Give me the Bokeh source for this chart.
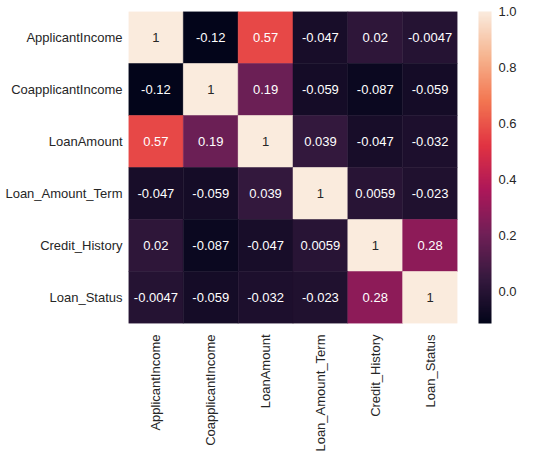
import numpy as np
from bokeh.plotting import figure
from bokeh.models import (ColumnDataSource, LinearColorMapper, ColorBar, FixedTicker,
                          PrintfTickFormatter, FactorRange)
from bokeh.core.properties import value
from bokeh.embed import file_html
from bokeh.resources import INLINE

labels = ["ApplicantIncome", "CoapplicantIncome", "LoanAmount",
          "Loan_Amount_Term", "Credit_History", "Loan_Status"]
row_applicant_income = [1, -0.12, 0.57, -0.047, 0.02, -0.0047]
row_coapplicant_income = [-0.12, 1, 0.19, -0.059, -0.087, -0.059]
row_loan_amount = [0.57, 0.19, 1, 0.039, -0.047, -0.032]
row_loan_amount_term = [-0.047, -0.059, 0.039, 1, 0.0059, -0.023]
row_credit_history = [0.02, -0.087, -0.047, 0.0059, 1, 0.28]
row_loan_status = [-0.0047, -0.059, -0.032, -0.023, 0.28, 1]
rows = [row_applicant_income, row_coapplicant_income, row_loan_amount,
        row_loan_amount_term, row_credit_history, row_loan_status]
vmin, vmax = -0.116, 1.0
cbar_ticks = [0.0, 0.2, 0.4, 0.6, 0.8, 1.0]

# rocket-like palette
stops = ["#03051a", "#35193e", "#701f57", "#ad1759", "#e13342", "#f37651", "#f6b48f", "#faebdd"]
def hex2rgb(h):
    return np.array([int(h[i:i + 2], 16) for i in (1, 3, 5)], dtype=float)
stop_rgb = np.array([hex2rgb(h) for h in stops])
pos = np.linspace(0, 1, len(stops))
t = np.linspace(0, 1, 256)
palette = []
for tt in t:
    rgb = [np.interp(tt, pos, stop_rgb[:, k]) for k in range(3)]
    palette.append("#%02x%02x%02x" % tuple(int(round(c)) for c in rgb))

xs, ys, vals, txt, tcol = [], [], [], [], []
for i, r in enumerate(rows):
    for j, v in enumerate(r):
        xs.append(labels[j]); ys.append(labels[i]); vals.append(v)
        txt.append("%g" % v)
        tcol.append("#262626" if v >= 0.9 else "white")
src = ColumnDataSource(dict(x=xs, y=ys, v=vals, t=txt, c=tcol))

mapper = LinearColorMapper(palette=palette, low=vmin, high=vmax)

FONT = "Liberation Sans"
FS = "13px"

p = figure(x_range=FactorRange(*labels, range_padding=0),
           y_range=FactorRange(*labels[::-1], range_padding=0),
           frame_width=329, frame_height=312,
           output_backend="svg", toolbar_location=None,
           min_border_left=128, min_border_top=11, min_border_right=0, min_border_bottom=0)
p.rect(x="x", y="y", width=1, height=1, source=src,
       fill_color={"field": "v", "transform": mapper},
       line_color={"field": "v", "transform": mapper}, line_width=0.5)
p.text(x="x", y="y", text="t", source=src, text_align="center", text_baseline="middle",
       text_font=value(FONT), text_font_size=FS, text_color="c")

for ax in (p.xaxis[0], p.yaxis[0]):
    ax.axis_line_color = None
    ax.major_tick_line_color = None
    ax.minor_tick_line_color = None
    ax.major_label_text_font = FONT
    ax.major_label_text_font_size = FS
    ax.major_label_text_color = "#262626"
p.xaxis.major_label_standoff = 5
p.yaxis.major_label_standoff = 0
p.xaxis.major_label_orientation = np.pi / 2
p.xgrid.grid_line_color = None
p.ygrid.grid_line_color = None
p.outline_line_color = None

cb = ColorBar(color_mapper=mapper, width=13, height=312,
              ticker=FixedTicker(ticks=cbar_ticks),
              formatter=PrintfTickFormatter(format="%.1f"),
              major_tick_line_color=None, minor_tick_line_color=None,
              bar_line_color=None, border_line_color=None, background_fill_color=None,
              major_label_text_font=FONT, major_label_text_font_size=FS,
              major_label_text_color="#262626",
              label_standoff=7, padding=0, margin=0, location=(21, 0))
p.add_layout(cb, "right")

open("out.html", "w").write(file_html(p, INLINE))
